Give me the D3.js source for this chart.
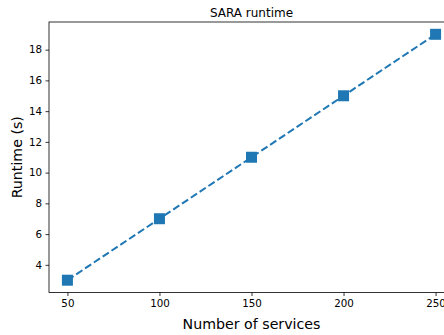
<!DOCTYPE html>
<html>
<head>
<meta charset="utf-8">
<script src="https://cdn.jsdelivr.net/npm/d3@7"></script>
<style>
html,body{margin:0;padding:0;background:#fff;overflow:hidden;}
svg{display:block;font-family:"DejaVu Sans",sans-serif;}
</style>
</head>
<body>
<svg id="chart" width="444" height="335"></svg>
<script>
const services = [50, 100, 150, 200, 250];
const runtimes = [3, 7, 11, 15, 19];
const xTicks = [50, 100, 150, 200, 250];
const yTicks = [4, 6, 8, 10, 12, 14, 16, 18];

(function () {
const svg = d3.select("#chart");
const mLeft = 49, mTop = 22, mRight = 454, mBottom = 292.5;

const x = d3.scaleLinear().domain([40, 260]).range([mLeft, mRight]);
const y = d3.scaleLinear().domain([2.2, 19.8]).range([mBottom, mTop]);

const xAxis = d3.axisBottom(x).tickValues(xTicks).tickSize(3.5).tickPadding(3.5).tickFormat(d3.format("d"));
const yAxis = d3.axisLeft(y).tickValues(yTicks).tickSize(3.5).tickPadding(3.5).tickFormat(d3.format("d"));

const gx = svg.append("g").attr("transform", `translate(0,${mBottom})`).call(xAxis);
const gy = svg.append("g").attr("transform", `translate(${mLeft},0)`).call(yAxis);
[gx, gy].forEach(g => {
  g.select(".domain").remove();
  g.selectAll(".tick line").attr("stroke", "#000").attr("stroke-width", 0.8);
  g.selectAll(".tick text").attr("fill", "#000").style("font-size", "10.3px").style("font-family", "DejaVu Sans");
});

// spines
svg.append("rect").attr("x", mLeft).attr("y", mTop)
  .attr("width", mRight - mLeft).attr("height", mBottom - mTop)
  .attr("fill", "none").attr("stroke", "#000").attr("stroke-width", 0.8);

const pts = services.map((s, i) => [s, runtimes[i]]);
svg.append("path").datum(pts)
  .attr("d", d3.line().x(d => x(d[0])).y(d => y(d[1])))
  .attr("fill", "none").attr("stroke", "#1f77b4").attr("stroke-width", 2)
  .attr("stroke-dasharray", "7.4,3.2");

const ms = 11;
svg.selectAll("rect.mk").data(pts).enter().append("rect").attr("class", "mk")
  .attr("x", d => x(d[0]) - ms / 2).attr("y", d => y(d[1]) - ms / 2)
  .attr("width", ms).attr("height", ms).attr("fill", "#1f77b4");

svg.append("text").attr("x", (mLeft + mRight) / 2).attr("y", 17)
  .attr("text-anchor", "middle").style("font-size", "12px").text("SARA runtime");

svg.append("text").attr("x", (mLeft + mRight) / 2).attr("y", 329)
  .attr("text-anchor", "middle").style("font-size", "14.2px").text("Number of services");

svg.append("text").attr("transform", `translate(22,${(mTop + mBottom) / 2}) rotate(-90)`)
  .attr("text-anchor", "middle").style("font-size", "14.2px").text("Runtime (s)");
})();
</script>
</body>
</html>
